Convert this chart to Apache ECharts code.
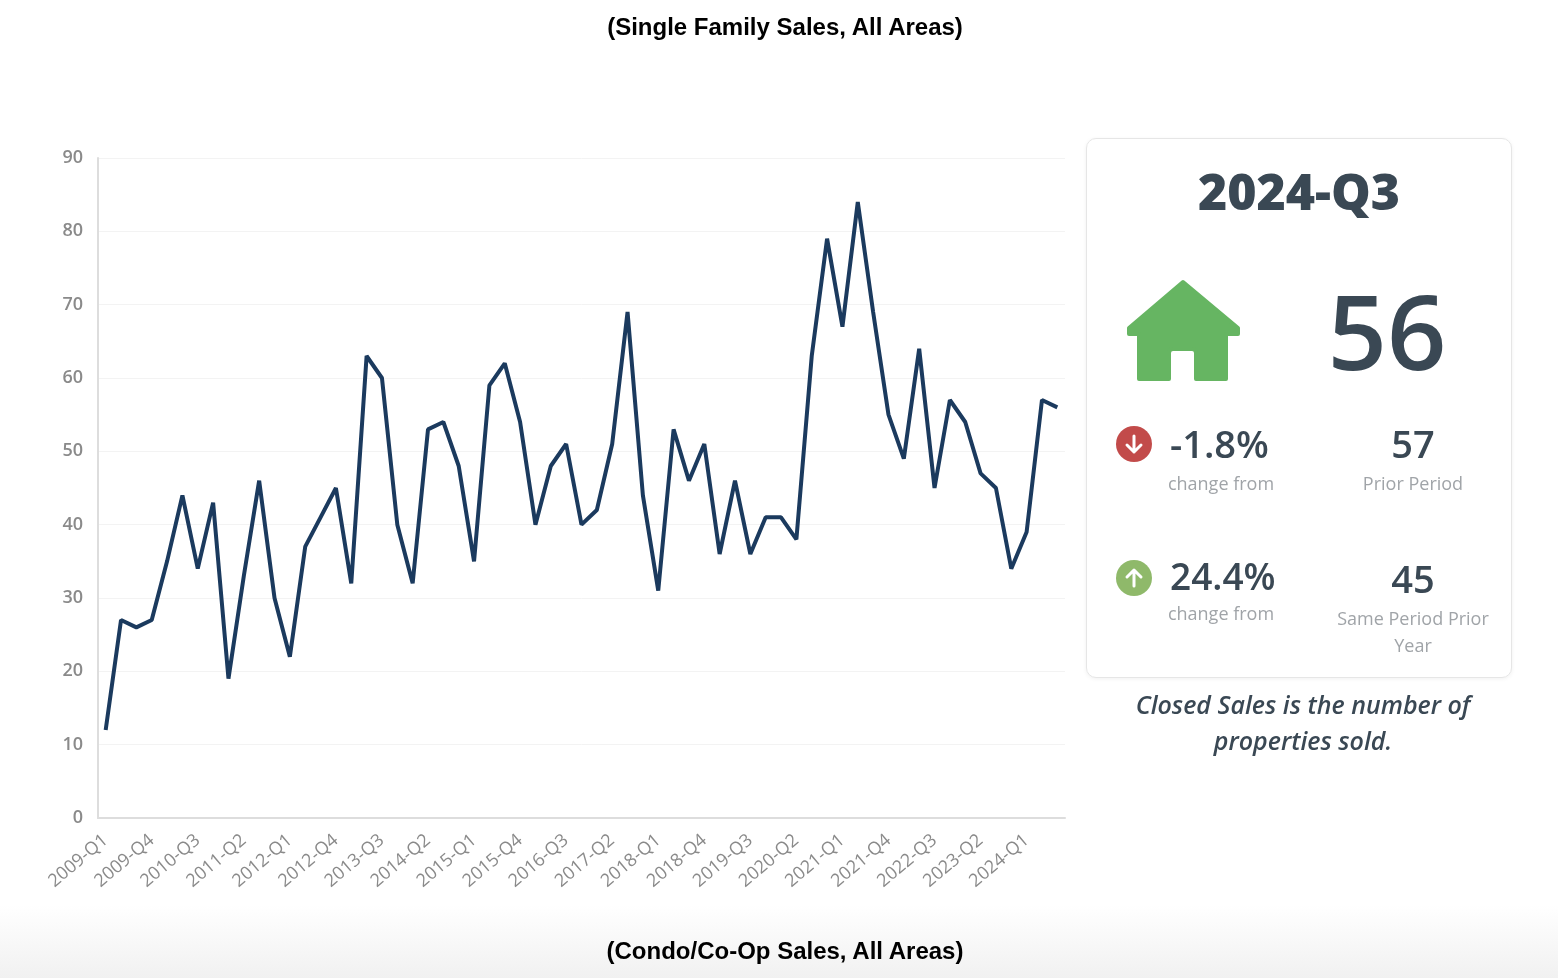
<!DOCTYPE html>
<html>
<head>
<meta charset="utf-8">
<script src="https://cdn.jsdelivr.net/npm/echarts@6/dist/echarts.min.js"></script>
<style>
  html, body { margin: 0; padding: 0; width: 1558px; height: 978px; background: #fff; overflow: hidden; }
  #wrap { position: relative; width: 1558px; height: 978px; }
  #chart { position: absolute; left: 0; top: 0; width: 1558px; height: 978px; }
  .heading { position: absolute; left: 0; width: 1570px; text-align: center; font-family: "Liberation Sans", Arial, sans-serif; font-weight: bold; font-size: 24px; color: #000; }
  #footer-band { position: absolute; left: 0; top: 905px; width: 1558px; height: 73px; background: linear-gradient(#ffffff, #f1f1f1); }
  #card { position: absolute; left: 1086px; top: 138px; width: 424px; height: 538px; border: 1px solid #e6e6e6; border-radius: 10px; box-shadow: 0 1px 4px rgba(0,0,0,0.06); background: #fff; font-family: "Open Sans", sans-serif; color: #3a4854; }
  #card .abs { position: absolute; text-align: center; line-height: 1; }
  .period { left: 0; width: 424px; top: 27px; font-size: 50px; font-weight: 800; }
  .big { left: 230px; width: 140px; top: 139px; font-size: 104px; font-weight: 600; }
  .pct { left: 83px; width: 110px; font-size: 38px; font-weight: 600; text-align: left !important; }
  .num { left: 276px; width: 100px; font-size: 38px; font-weight: 600; }
  .sub { font-size: 18px; color: #a0a4a8; line-height: 27px !important; }
  .badge { position: absolute; width: 36px; height: 36px; border-radius: 50%; }
  #note { position: absolute; left: 1090px; top: 686px; width: 426px; text-align: center; font-family: "Open Sans", sans-serif; font-style: italic; font-weight: 600; font-size: 25px; line-height: 36px; color: #3a4854; }
</style>
</head>
<body>
<div id="wrap">
  <div id="footer-band"></div>
  <div id="chart"></div>
  <div class="heading" style="top:13px;">(Single Family Sales, All Areas)</div>
  <div class="heading" style="top:937px;">(Condo/Co-Op Sales, All Areas)</div>
  <div id="card"></div>
  <div id="note"></div>
</div>
<script>
// quarterly closed sales, single family
const quarters = [
  '2009-Q1','2009-Q2','2009-Q3','2009-Q4','2010-Q1','2010-Q2','2010-Q3','2010-Q4',
  '2011-Q1','2011-Q2','2011-Q3','2011-Q4','2012-Q1','2012-Q2','2012-Q3','2012-Q4',
  '2013-Q1','2013-Q2','2013-Q3','2013-Q4','2014-Q1','2014-Q2','2014-Q3','2014-Q4',
  '2015-Q1','2015-Q2','2015-Q3','2015-Q4','2016-Q1','2016-Q2','2016-Q3','2016-Q4',
  '2017-Q1','2017-Q2','2017-Q3','2017-Q4','2018-Q1','2018-Q2','2018-Q3','2018-Q4',
  '2019-Q1','2019-Q2','2019-Q3','2019-Q4','2020-Q1','2020-Q2','2020-Q3','2020-Q4',
  '2021-Q1','2021-Q2','2021-Q3','2021-Q4','2022-Q1','2022-Q2','2022-Q3','2022-Q4',
  '2023-Q1','2023-Q2','2023-Q3','2023-Q4','2024-Q1','2024-Q2','2024-Q3'
];
const closedSales = [
  12, 27, 26, 27, 35, 44, 34, 43,
  19, 33, 46, 30, 22, 37, 41, 45,
  32, 63, 60, 40, 32, 53, 54, 48,
  35, 59, 62, 54, 40, 48, 51, 40,
  42, 51, 69, 44, 31, 53, 46, 51,
  36, 46, 36, 41, 41, 38, 63, 79,
  67, 84, 69, 55, 49, 64, 45, 57,
  54, 47, 45, 34, 39, 57, 56
];
const yTicks = [0, 90, 10]; // min, max, interval

// KPI card
const currentPeriod = '2024-Q3';
const currentValue = 56;
const priorPeriodValue = 57;
const priorPeriodChange = '-1.8%';
const priorYearValue = 45;
const priorYearChange = '24.4%';
const noteText = 'Closed Sales is the number of<br>properties sold.';

const card = document.getElementById('card');
card.innerHTML = `
  <div class="abs period">${currentPeriod}</div>
  <svg style="position:absolute;left:39px;top:140px;" width="116" height="104" viewBox="0 0 116 104">
    <path fill="#66b562" stroke="#66b562" stroke-width="4" stroke-linejoin="round"
      d="M57 3 L3 49 L3 55 L13 55 L13 100 L43 100 L43 74 Q43 70 47 70 L66 70 Q70 70 70 74 L70 100 L100 100 L100 55 L112 55 L112 49 Z"/>
  </svg>
  <div class="abs big">${currentValue}</div>

  <div class="badge" style="left:29px;top:287px;background:#c24b4a;">
    <svg width="36" height="36" viewBox="0 0 36 36"><path d="M18 10 V26 M11 19 L18 26 L25 19" stroke="#fff" stroke-width="3" fill="none" stroke-linecap="round" stroke-linejoin="round"/></svg>
  </div>
  <div class="abs pct" style="top:285px;">${priorPeriodChange}</div>
  <div class="abs sub" style="left:64px;width:140px;top:331px;">change from</div>
  <div class="abs num" style="top:285px;">${priorPeriodValue}</div>
  <div class="abs sub" style="left:246px;width:160px;top:331px;">Prior Period</div>

  <div class="badge" style="left:29px;top:421px;background:#8fb96a;">
    <svg width="36" height="36" viewBox="0 0 36 36"><path d="M18 26 V10 M11 17 L18 10 L25 17" stroke="#fff" stroke-width="3" fill="none" stroke-linecap="round" stroke-linejoin="round"/></svg>
  </div>
  <div class="abs pct" style="top:418px;font-size:37px;">${priorYearChange}</div>
  <div class="abs sub" style="left:64px;width:140px;top:461px;">change from</div>
  <div class="abs num" style="top:420px;">${priorYearValue}</div>
  <div class="abs sub" style="left:236px;width:180px;top:466px;">Same Period Prior Year</div>
`;
document.getElementById('note').innerHTML = noteText;

const chart = echarts.init(document.getElementById('chart'));
chart.setOption({
  animation: false,
  grid: { left: 98, right: 493, top: 158, bottom: 160 },
  xAxis: {
    type: 'category',
    data: quarters,
    boundaryGap: true,
    axisLine: { lineStyle: { color: '#dddddd', width: 2 } },
    axisTick: { show: false },
    axisLabel: { interval: 2, rotate: 40, margin: 20, color: '#8a8a8a', fontSize: 18, fontFamily: 'Open Sans' },
    splitLine: { show: false }
  },
  yAxis: {
    type: 'value',
    min: yTicks[0], max: yTicks[1], interval: yTicks[2],
    axisLine: { show: true, lineStyle: { color: '#dddddd', width: 2 } },
    axisTick: { show: false },
    axisLabel: { margin: 15, color: '#8a8a8a', fontSize: 18, fontFamily: 'Open Sans', fontWeight: 600 },
    splitLine: { lineStyle: { color: '#f3f3f3', width: 1 } }
  },
  series: [{
    type: 'line',
    data: closedSales,
    symbol: 'none',
    lineStyle: { color: '#1b3a5e', width: 4 },
    itemStyle: { color: '#1b3a5e' }
  }]
});
</script>
</body>
</html>
